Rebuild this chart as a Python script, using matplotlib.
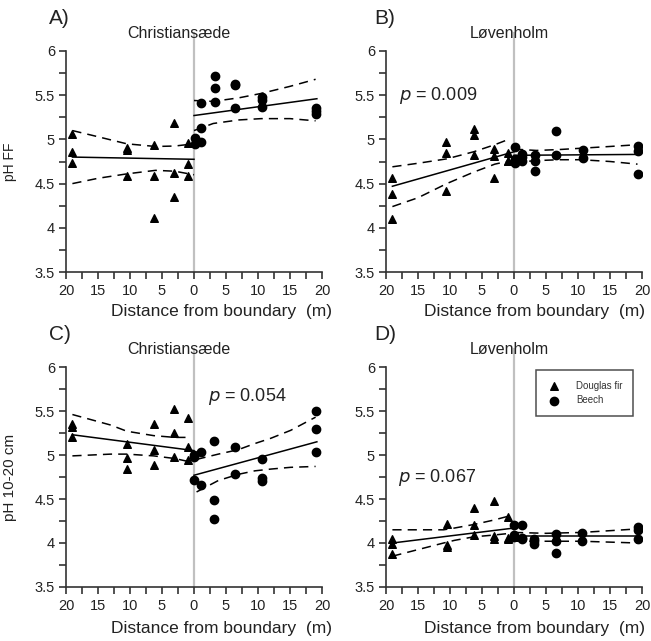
import matplotlib
matplotlib.use('Agg')
from matplotlib import pyplot as plt
from matplotlib.ticker import MultipleLocator, FuncFormatter

plt.rcParams['font.family'] = ['Liberation Sans', 'DejaVu Sans']

# ---- Panel A: Christiansaede, pH FF ----
a_fir_x = [-19]*3 + [-10.5]*3 + [-6.3]*3 + [-3.1]*3 + [-0.9]*3
a_fir_y = [5.06, 4.86, 4.73, 4.90, 4.875, 4.59, 4.94, 4.59, 4.11,
           5.18, 4.62, 4.35, 4.96, 4.72, 4.59]
a_bee_x = [0.1]*2 + [1.15]*3 + [3.25]*3 + [6.45]*3 + [10.7]*3 + [19.1]*3
a_bee_y = [5.02, 4.95, 5.41, 5.13, 4.97, 5.72, 5.58, 5.42, 5.63, 5.61, 5.36,
           5.48, 5.45, 5.37, 5.36, 5.32, 5.29]
a_fir_fit = [4.80, 4.775]
a_bee_fit = [5.27, 5.46]
a_fir_ci_x = [-19, -15, -10.5, -6, -3, 0]
a_fir_up = [5.10, 5.03, 4.95, 4.92, 4.925, 4.95]
a_fir_lo = [4.50, 4.56, 4.61, 4.65, 4.64, 4.60]
a_bee_ci_x = [0, 3, 7, 10.5, 15, 19]
a_bee_up = [5.44, 5.43, 5.47, 5.52, 5.60, 5.68]
a_bee_lo = [5.10, 5.18, 5.22, 5.235, 5.235, 5.21]

# ---- Panel B: Lovenholm, pH FF ----
b_fir_x = [-19.1]*3 + [-10.6]*3 + [-6.3]*3 + [-3.1]*3 + [-0.9]*3
b_fir_y = [4.56, 4.38, 4.10, 4.97, 4.85, 4.42, 5.12, 5.05, 4.82,
           4.89, 4.81, 4.56, 4.85, 4.76, 4.76]
b_bee_x = [0.1]*3 + [1.25]*3 + [3.25]*3 + [6.6]*2 + [10.8]*2 + [19.3]*3
b_bee_y = [4.91, 4.78, 4.73, 4.84, 4.80, 4.76, 4.82, 4.76, 4.64,
           5.10, 4.82, 4.88, 4.79, 4.92, 4.87, 4.61]
b_fir_fit = [4.47, 4.86]
b_bee_fit = [4.82, 4.83]
b_fir_ci_x = [-19, -15, -10.5, -6.3, -3, -0.5]
b_fir_up = [4.69, 4.73, 4.78, 4.86, 4.94, 5.01]
b_fir_lo = [4.24, 4.34, 4.50, 4.63, 4.72, 4.76]
b_bee_ci_x = [0, 3.5, 7, 10.5, 15, 19.3]
b_bee_up = [4.89, 4.875, 4.885, 4.90, 4.92, 4.94]
b_bee_lo = [4.74, 4.76, 4.77, 4.77, 4.75, 4.72]

# ---- Panel C: Christiansaede, pH 10-20 cm ----
c_fir_x = [-19]*3 + [-10.5]*3 + [-6.3]*3 + [-3.1]*3 + [-1.0]*3
c_fir_y = [5.35, 5.32, 5.20, 5.12, 4.97, 4.84, 5.35, 5.06, 4.89,
           5.52, 5.25, 4.98, 5.42, 5.09, 4.94]
c_bee_x = [0.05]*3 + [1.1]*2 + [3.2]*3 + [6.35]*2 + [10.6]*3 + [19.0]*3
c_bee_y = [5.00, 4.98, 4.72, 5.03, 4.66, 5.16, 4.49, 4.27, 5.09, 4.78,
           4.95, 4.74, 4.71, 5.50, 5.29, 5.03]
c_fir_fit = [5.23, 5.05]
c_bee_fit = [4.77, 5.15]
c_fir_ci_x = [-19, -13, -10.5, -6.3, -3, -0.5]
c_fir_up = [5.46, 5.34, 5.27, 5.22, 5.20, 5.20]
c_fir_lo = [4.99, 5.01, 5.01, 4.99, 4.96, 4.92]
c_bee_ci_x = [0.4, 3.8, 6.9, 9.5, 12, 15.1, 19]
c_bee_up = [4.95, 5.01, 5.06, 5.13, 5.19, 5.28, 5.43]
c_bee_lo = [4.58, 4.71, 4.78, 4.82, 4.84, 4.86, 4.87]

# ---- Panel D: Lovenholm, pH 10-20 cm ----
d_fir_x = [-19.1]*3 + [-10.5]*3 + [-6.3]*3 + [-3.1]*3 + [-1.0]*3
d_fir_y = [4.04, 3.99, 3.88, 4.22, 3.98, 3.95, 4.40, 4.21, 4.09,
           4.48, 4.08, 4.05, 4.29, 4.06, 4.04]
d_bee_x = [0.05]*3 + [1.25]*3 + [3.2]*3 + [6.5]*3 + [10.7]*2 + [19.3]*3
d_bee_y = [4.20, 4.09, 4.07, 4.20, 4.06, 4.04, 4.04, 4.02, 3.99,
           4.10, 4.02, 3.89, 4.11, 4.02, 4.18, 4.15, 4.05]
d_fir_fit = [4.00, 4.17]
d_bee_fit = [4.075, 4.075]
d_fir_ci_x = [-19, -11, -9.3, -6.3, -3.2, -0.6]
d_fir_up = [4.15, 4.15, 4.17, 4.21, 4.26, 4.31]
d_fir_lo = [3.85, 4.00, 4.03, 4.07, 4.09, 4.11]
d_bee_ci_x = [0, 5, 10.5, 15, 19.3]
d_bee_up = [4.12, 4.11, 4.12, 4.14, 4.16]
d_bee_lo = [4.02, 4.02, 4.02, 4.01, 4.00]

fir_fit_x = [-19, 0]
bee_fit_x = [0, 19.2]

panels = [
    ('A)', 'Christiansæde', ('pH FF', 10), None,
     a_fir_x, a_fir_y, a_bee_x, a_bee_y, a_fir_fit, a_bee_fit,
     a_fir_ci_x, a_fir_up, a_fir_lo, a_bee_ci_x, a_bee_up, a_bee_lo),
    ('B)', 'Løvenholm', None, ('0.009', -18.0, 5.5),
     b_fir_x, b_fir_y, b_bee_x, b_bee_y, b_fir_fit, b_bee_fit,
     b_fir_ci_x, b_fir_up, b_fir_lo, b_bee_ci_x, b_bee_up, b_bee_lo),
    ('C)', 'Christiansæde', ('pH 10-20 cm', 11), ('0.054', 2.2, 5.66),
     c_fir_x, c_fir_y, c_bee_x, c_bee_y, c_fir_fit, c_bee_fit,
     c_fir_ci_x, c_fir_up, c_fir_lo, c_bee_ci_x, c_bee_up, c_bee_lo),
    ('D)', 'Løvenholm', None, ('0.067', -18.2, 4.75),
     d_fir_x, d_fir_y, d_bee_x, d_bee_y, d_fir_fit, d_bee_fit,
     d_fir_ci_x, d_fir_up, d_fir_lo, d_bee_ci_x, d_bee_up, d_bee_lo),
]

W, H = 651, 641
fig = plt.figure(figsize=(W / 100, H / 100), dpi=100)
# axes boxes in pixels: left, top, right, bottom
boxes = [(66, 51, 322, 272), (386, 51, 642, 272),
         (66, 367, 322, 587), (386, 367, 642, 587)]

dash = (0, (6, 4))
for i, (box, p) in enumerate(zip(boxes, panels)):
    (lab, site, ylab, ptxt, fx, fy, bx, by, ffit, bfit,
     fcx, fup, flo, bcx, bup, blo) = p
    l, t, r, b = box
    ax = fig.add_axes([l / W, 1 - b / H, (r - l) / W, (b - t) / H])

    ax.plot([0, 0], [3.5, 6.2], color='#c0c0c0', lw=1.6, clip_on=False, zorder=1)

    h1 = ax.scatter(fx, fy, marker='^', s=30, color='black', zorder=3, label='Douglas fir')
    h2 = ax.scatter(bx, by, marker='o', s=36, color='black', zorder=3, label='Beech')

    ax.plot(fir_fit_x, ffit, color='black', lw=1.1, zorder=2)
    ax.plot(bee_fit_x, bfit, color='black', lw=1.1, zorder=2)
    ax.plot(fcx, fup, color='black', lw=1.1, ls=dash, zorder=2)
    ax.plot(fcx, flo, color='black', lw=1.1, ls=dash, zorder=2)
    ax.plot(bcx, bup, color='black', lw=1.1, ls=dash, zorder=2)
    ax.plot(bcx, blo, color='black', lw=1.1, ls=dash, zorder=2)

    ax.set_xlim(-20, 20)
    ax.set_ylim(3.5, 6)
    for s in ['top', 'right']:
        ax.spines[s].set_visible(False)
    for s in ['left', 'bottom']:
        ax.spines[s].set_linewidth(1.2)
        ax.spines[s].set_color('#333333')
    ax.xaxis.set_major_locator(MultipleLocator(5))
    ax.xaxis.set_minor_locator(MultipleLocator(2.5))
    ax.yaxis.set_major_locator(MultipleLocator(0.5))
    ax.yaxis.set_minor_locator(MultipleLocator(0.25))
    ax.xaxis.set_major_formatter(FuncFormatter(lambda v, pos: '%d' % abs(v)))
    ax.yaxis.set_major_formatter(FuncFormatter(lambda v, pos: ('%g' % v)))
    ax.tick_params(which='both', direction='out', length=5, width=1.2,
                   color='#333333', labelsize=10.5, labelcolor='#222222')
    ax.tick_params(axis='y', pad=3)

    ax.text(-2.3 if i % 2 == 0 else -0.7, 6.2, site, ha='center', va='center',
            fontsize=11.5, color='#222222')
    ax.text(-22.7 if i % 2 == 0 else -21.8, 6.37, lab, ha='left', va='center',
            fontsize=15, color='#222222', clip_on=False)
    ax.text(0.607 if i % 2 == 0 else 0.582, -0.18 if i < 2 else -0.19,
            'Distance from boundary  (m)',
            transform=ax.transAxes, ha='center', va='center', fontsize=12.5,
            color='#222222')
    if ylab:
        ax.set_ylabel(ylab[0], fontsize=ylab[1], color='#222222')
        ax.yaxis.set_label_coords(-0.19, 0.5)
    if ptxt:
        ax.text(ptxt[1], ptxt[2], r'$p$ = ' + ptxt[0], ha='left', va='center',
                fontsize=13, color='#222222')
    if i == 3:
        leg = ax.legend(handles=[h1, h2], loc='upper right',
                        bbox_to_anchor=((633 - l) / (r - l), 1 - (370 - t) / (b - t)),
                        fontsize=7, frameon=True, fancybox=False,
                        edgecolor='#222222', borderpad=1.1, handletextpad=1.4,
                        handlelength=1.6, labelspacing=0.45, borderaxespad=0)
        leg.get_frame().set_linewidth(1.1)
        for t_ in leg.get_texts():
            t_.set_color('#333333')

fig.savefig('out.png', dpi=100)
